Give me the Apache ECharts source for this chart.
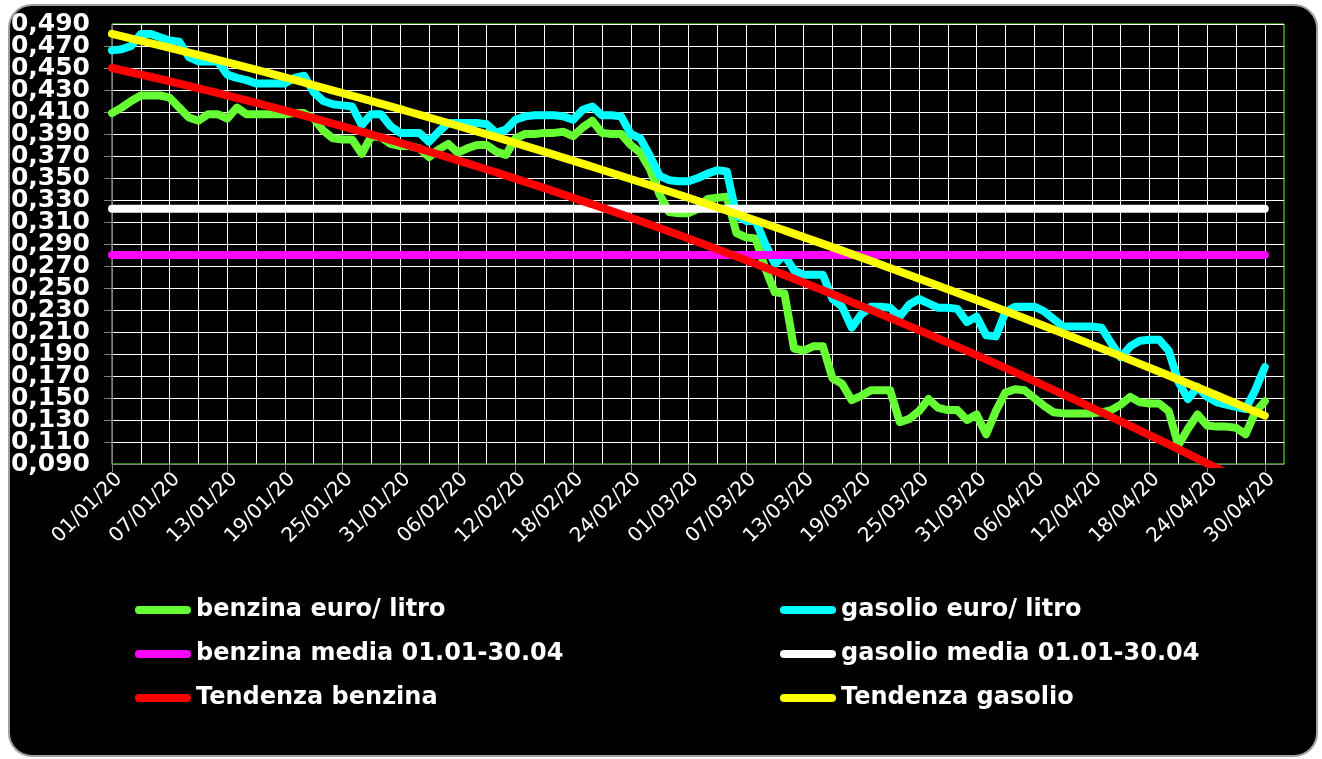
<!DOCTYPE html>
<html>
<head>
<meta charset="utf-8">
<script src="https://cdn.jsdelivr.net/npm/echarts@6/dist/echarts.min.js"></script>
<style>
html,body{margin:0;padding:0;background:#fff;width:1322px;height:759px;overflow:hidden;}
#bg{position:absolute;left:8px;top:4px;width:1306px;height:749px;background:#000;border:2px solid #a0a0a0;border-radius:24px;}
#chart{position:absolute;left:0;top:0;width:1322px;height:759px;}
</style>
</head>
<body>
<div id="bg"></div>
<div id="chart"></div>
<script>
// Categories: daily dates 01/01/20 .. 02/05/20 (axis extends 2 days past the data)
const months = [[1,31],[2,29],[3,31],[4,30],[5,2]];
const categories = [];
months.forEach(([m, n]) => {
  for (let d = 1; d <= n; d++) {
    categories.push(String(d).padStart(2,'0') + '/' + String(m).padStart(2,'0') + '/20');
  }
});

// benzina euro/litro (01/01 .. 30/04)
const benzina = [
0.409,0.414,0.420,0.425,0.425,0.425,0.423,0.414,0.405,0.402,
0.408,0.408,0.404,0.414,0.408,0.408,0.408,0.408,0.408,0.409,
0.409,0.404,0.393,0.386,0.385,0.385,0.372,0.388,0.387,0.381,
0.379,0.379,0.377,0.369,0.376,0.381,0.373,0.377,0.380,0.380,
0.374,0.371,0.386,0.390,0.390,0.391,0.391,0.392,0.388,0.396,
0.402,0.391,0.390,0.390,0.380,0.373,0.358,0.335,0.319,0.318,
0.318,0.322,0.331,0.332,0.333,0.300,0.296,0.295,0.268,0.246,
0.245,0.195,0.193,0.197,0.197,0.168,0.163,0.148,0.152,0.157,
0.157,0.157,0.128,0.131,0.138,0.149,0.141,0.139,0.139,0.130,
0.135,0.117,0.138,0.155,0.158,0.157,0.150,0.143,0.137,0.136,
0.136,0.136,0.136,0.137,0.139,0.144,0.151,0.146,0.145,0.145,
0.138,0.107,0.122,0.135,0.125,0.124,0.124,0.123,0.117,0.137,
0.147
];

// gasolio euro/litro (01/01 .. 30/04)
const gasolio = [
0.466,0.467,0.470,0.481,0.481,0.478,0.475,0.474,0.460,0.456,
0.456,0.456,0.444,0.441,0.439,0.436,0.436,0.436,0.436,0.441,
0.443,0.428,0.420,0.417,0.416,0.415,0.398,0.408,0.408,0.397,
0.391,0.391,0.391,0.383,0.392,0.400,0.400,0.400,0.400,0.399,
0.391,0.394,0.403,0.406,0.407,0.407,0.407,0.406,0.403,0.412,
0.415,0.407,0.407,0.406,0.390,0.386,0.370,0.352,0.348,0.347,
0.347,0.350,0.354,0.357,0.356,0.316,0.311,0.311,0.290,0.272,
0.280,0.266,0.262,0.262,0.262,0.240,0.233,0.214,0.226,0.233,
0.233,0.232,0.224,0.235,0.240,0.236,0.232,0.232,0.231,0.219,
0.224,0.207,0.206,0.228,0.233,0.233,0.233,0.229,0.222,0.215,
0.215,0.215,0.215,0.214,0.200,0.187,0.197,0.202,0.203,0.203,
0.193,0.165,0.149,0.160,0.151,0.146,0.144,0.142,0.140,0.157,
0.178
];

// averages 01.01-30.04
const benzinaMedia = 0.280;
const gasolioMedia = 0.322;

// trend lines, read every 10 days
const trendDays = ['01/01/20','11/01/20','21/01/20','31/01/20','10/02/20','20/02/20','01/03/20','11/03/20','21/03/20','31/03/20','10/04/20','20/04/20','30/04/20'];
const trendBenzina = [0.450,0.4295,0.4068,0.382,0.3551,0.3261,0.295,0.2618,0.2264,0.189,0.1494,0.1078,0.064];
const trendGasolio = [0.481,0.4596,0.4368,0.4126,0.3871,0.3602,0.332,0.3024,0.2714,0.2391,0.2054,0.1704,0.134];

// y-axis ticks
const yMin = 0.09, yMax = 0.49, yStep = 0.02;

const firstDay = '01/01/20', lastDay = '30/04/20';
const lw = 8;
function lineSeries(name, color, data, extra) {
  return Object.assign({
    name, type: 'line', data, showSymbol: false, symbol: 'none',
    xAxisIndex: 0, yAxisIndex: 0,
    lineStyle: { color, width: lw, cap: 'round', join: 'round' },
    itemStyle: { color },
    emphasis: { disabled: true }, animation: false, z: 4
  }, extra || {});
}

const icon = 'path://M4,0 L52,0 A4,4 0 0 1 52,8 L4,8 A4,4 0 0 1 4,0 Z';
const legendText = { color: '#fff', fontWeight: 'bold', fontSize: 24, fontFamily: 'DejaVu Sans', lineHeight: 26 };
const white = () => ({ color: '#ffffff', width: 1, opacity: 1, type: 'solid' });
const gray = () => ({ color: '#808080', width: 1, opacity: 1 });
const fmt = (v) => v.toFixed(3).replace('.', ',');
const isEnd = (v) => Math.abs(v - yMin) < 1e-6 || Math.abs(v - yMax) < 1e-6;
const yLabelStyle = { color: '#fff', fontWeight: 'bold', fontSize: 25, fontFamily: 'DejaVu Sans', margin: 22 };

const chart = echarts.init(document.getElementById('chart'), null, { renderer: 'canvas' });
chart.setOption({
  backgroundColor: 'transparent',
  animation: false,
  grid: { left: 112, top: 24, width: 1172, height: 440, show: true, z: 0, borderColor: '#66ff33', borderWidth: 1 },
  legend: [
    { data: ['benzina euro/ litro','benzina media 01.01-30.04','Tendenza benzina'], orient: 'vertical', left: 130, top: 592, itemWidth: 56, itemHeight: 8, itemGap: 18, icon, textStyle: legendText, selectedMode: false },
    { data: ['gasolio euro/ litro','gasolio media 01.01-30.04','Tendenza gasolio'], orient: 'vertical', left: 775, top: 592, itemWidth: 56, itemHeight: 8, itemGap: 18, icon, textStyle: legendText, selectedMode: false }
  ],
  xAxis: {
    type: 'category', data: categories, boundaryGap: false, position: 'bottom', z: 2,
    axisLine: { show: true, onZero: false, lineStyle: gray() },
    axisTick: { show: true, length: 8, interval: 5, lineStyle: gray() },
    axisLabel: { show: true, interval: 5, rotate: 45, color: '#fff', fontSize: 20, fontFamily: 'DejaVu Sans', margin: 5, verticalAlign: 'top', hideOverlap: false },
    splitLine: { show: true, interval: 2, lineStyle: white() }
  },
  yAxis: [{
    // main axis: gridlines, ticks and inner labels
    type: 'value', min: yMin, max: yMax, interval: yStep, position: 'left', z: 2,
    axisLine: { show: true, onZero: false, lineStyle: gray() },
    axisTick: { show: true, length: 8, lineStyle: gray() },
    axisLabel: Object.assign({ show: true, showMinLabel: false, showMaxLabel: false, formatter: (v) => isEnd(v) ? '' : fmt(v) }, yLabelStyle),
    splitLine: { show: true, showMinLine: true, showMaxLine: true, lineStyle: white() }
  }, {
    // same scale: only the end labels
    type: 'value', min: yMin, max: yMax, interval: yStep, position: 'left', offset: 0, z: 2,
    axisLine: { show: false }, axisTick: { show: false }, splitLine: { show: false },
    axisLabel: Object.assign({ show: true, showMinLabel: true, showMaxLabel: true, formatter: (v) => isEnd(v) ? fmt(v) : '' }, yLabelStyle)
  }],
  series: [
    lineSeries('benzina euro/ litro', '#66ff33', benzina),
    lineSeries('gasolio euro/ litro', '#00ffff', gasolio),
    lineSeries('benzina media 01.01-30.04', '#ff00ff', [[firstDay, benzinaMedia],[lastDay, benzinaMedia]]),
    lineSeries('gasolio media 01.01-30.04', '#ffffff', [[firstDay, gasolioMedia],[lastDay, gasolioMedia]]),
    lineSeries('Tendenza benzina', '#ff0000', trendDays.map((d, i) => [d, trendBenzina[i]]), { smooth: true }),
    lineSeries('Tendenza gasolio', '#ffff00', trendDays.map((d, i) => [d, trendGasolio[i]]), { smooth: true })
  ]
});
</script>
</body>
</html>
